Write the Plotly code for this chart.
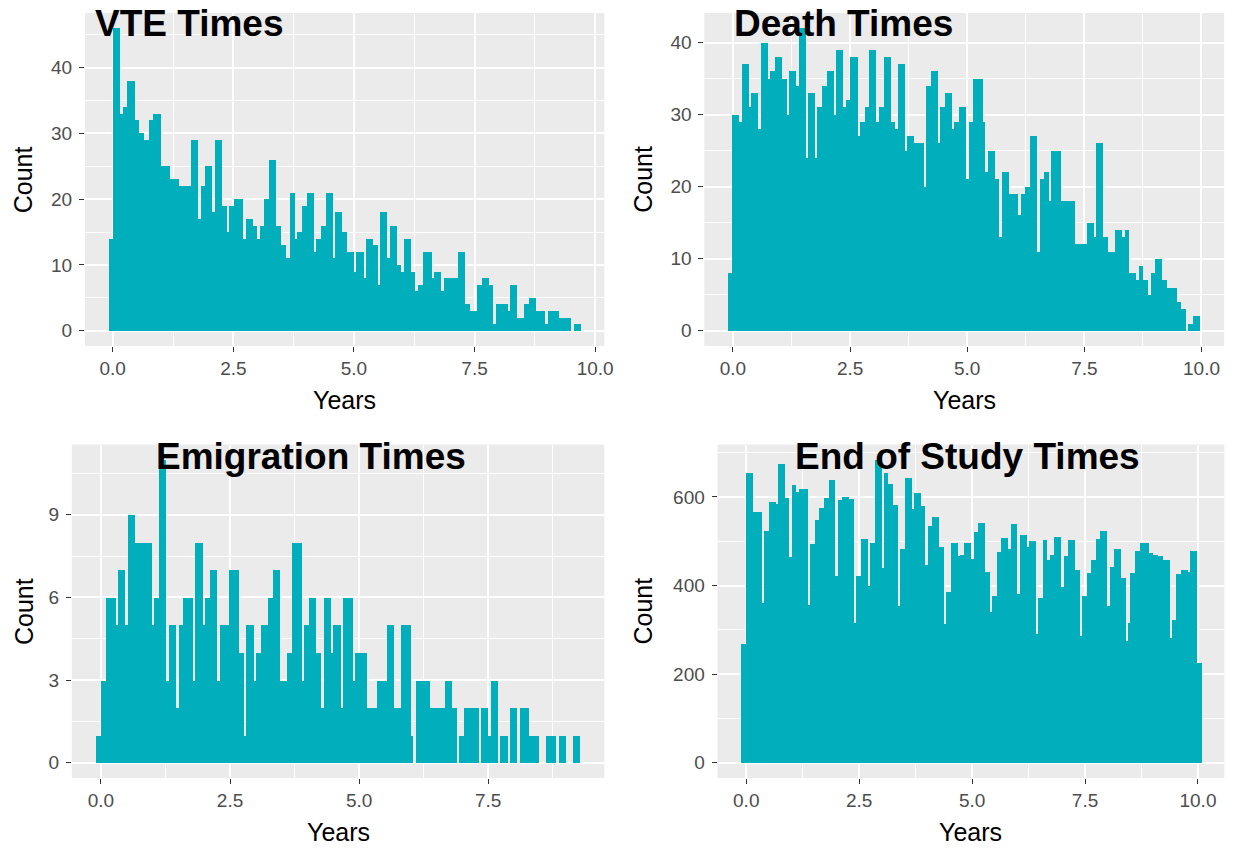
import plotly.graph_objects as go

# ---------------- data (counts per histogram bin) ----------------
vte_counts = [14,14,46,46,46,33,34,34,38,38,
              38,32,32,30,30,29,29,32,32,33,
              33,33,25,25,25,25,23,23,23,23,
              22,22,22,22,22,29,29,29,17,22,
              22,25,25,25,18,29,29,29,19,19,
              15,19,19,20,20,20,20,14,17,17,
              17,16,16,14,16,16,20,20,26,26,
              26,16,16,13,13,11,11,21,21,14,
              15,15,19,19,21,21,21,12,14,14,
              16,16,21,21,21,11,18,18,18,15,
              15,12,12,12,9,12,12,12,8,14,
              14,14,13,13,7,18,18,18,11,16,
              16,16,10,10,9,14,14,14,9,9,
              6,7,7,12,12,12,12,8,9,9,
              9,6,8,8,8,8,8,8,12,12,
              12,4,4,3,3,3,7,7,8,8,
              8,7,7,1,4,4,4,4,4,3,
              7,7,7,2,2,2,4,4,5,5,
              5,3,3,3,3,1,3,3,3,3,
              3,2,2,2,2,2,0,1,1,1]

death_counts = [8,8,30,30,30,29,37,37,37,31,
                33,33,33,28,40,40,40,35,36,36,
                38,38,38,35,35,30,36,36,36,34,
                42,42,42,24,33,33,33,24,31,31,
                34,34,36,36,36,30,39,39,39,31,
                32,32,38,38,38,27,29,29,31,31,
                39,39,39,29,31,31,38,38,38,29,
                29,28,37,37,37,25,27,27,27,26,
                26,26,26,20,34,34,36,36,36,26,
                31,31,33,33,33,28,29,29,31,31,
                31,21,29,29,35,35,35,35,29,22,
                25,25,25,21,21,13,22,22,22,19,
                19,19,19,16,19,19,20,20,27,27,
                27,11,21,21,22,22,18,25,25,25,
                25,18,18,18,18,18,18,12,12,12,
                12,12,15,15,15,13,26,26,26,13,
                13,11,11,11,14,14,14,13,14,14,
                8,8,8,7,9,9,7,7,5,8,
                8,10,10,10,7,7,6,6,6,6,
                4,4,3,3,0,1,1,2,2,2]

emig_counts = [1,1,3,3,6,6,6,6,5,7,
               7,7,5,9,9,9,8,8,8,8,
               8,8,8,5,6,6,11,11,11,3,
               5,5,5,2,5,5,6,6,6,6,
               3,8,8,8,5,6,6,7,7,7,
               3,5,5,5,5,7,7,7,7,4,
               4,1,5,5,5,3,4,4,5,5,
               5,6,6,7,7,7,3,3,3,4,
               4,8,8,8,8,3,5,5,6,6,
               6,4,4,2,6,6,6,4,5,5,
               5,2,6,6,6,6,3,4,4,4,
               4,4,2,2,2,2,3,3,3,3,
               5,5,5,2,2,2,5,5,5,5,
               1,0,3,3,3,3,3,3,2,2,
               2,2,2,2,3,3,3,2,2,0,
               1,1,2,2,2,2,2,2,0,2,
               2,2,1,3,3,3,0,1,1,1,
               0,2,2,2,0,2,2,2,2,1,
               1,1,1,0,0,0,1,1,1,1,
               0,1,1,1,0,0,0,1,1,1]

end_counts = [269,269,654,654,654,568,568,568,568,362,
              525,525,589,589,589,586,675,675,675,598,
              598,466,628,628,613,619,619,619,619,358,
              495,495,550,550,576,576,598,598,639,639,
              639,422,594,594,600,600,600,596,596,317,
              422,422,506,506,506,399,497,497,684,684,
              684,440,655,655,630,630,583,583,354,483,
              483,644,644,644,574,610,610,610,580,580,
              447,536,536,555,555,555,489,489,314,386,
              386,497,497,497,468,471,471,497,497,497,
              462,523,523,542,542,542,431,431,341,378,
              378,477,477,508,508,508,483,541,541,541,
              382,516,516,516,487,502,502,502,292,374,
              374,504,504,459,471,471,510,510,510,397,
              468,468,504,504,504,437,437,288,378,378,
              429,429,459,459,505,505,525,525,525,356,
              442,442,483,483,483,417,417,275,317,429,
              429,480,480,497,497,497,497,474,474,471,
              471,468,468,459,459,459,282,323,323,427,
              427,435,435,435,431,480,480,480,226,226]

# outer edges (years) of the binned range of each histogram
vte_range = [-0.086, 9.70]
death_range = [-0.106, 9.98]
emig_range = [-0.096, 9.28]
end_range = [-0.125, 10.075]

titles = ["VTE Times", "Death Times", "Emigration Times", "End of Study Times"]
x_tick_vals = [0, 2.5, 5, 7.5, 10]
x_tick_text = ["0.0", "2.5", "5.0", "7.5", "10.0"]
x_minor_vals = [1.25, 3.75, 6.25, 8.75]
vte_y_ticks = [0, 10, 20, 30, 40]
death_y_ticks = [0, 10, 20, 30, 40]
emig_y_ticks = [0, 3, 6, 9]
end_y_ticks = [0, 200, 400, 600]
vte_y_minor = [5, 15, 25, 35, 45]
death_y_minor = [5, 15, 25, 35, 45]
emig_y_minor = [1.5, 4.5, 7.5, 10.5]
end_y_minor = [100, 300, 500, 700]

# ---------------- layout (pixels) ----------------
W, H = 1244, 850
FILL = "#00AFBB"
FONT = "Liberation Sans, Arial, Helvetica, sans-serif"

panels = [
    # counts, range, yticks, yminor, (x0, x1, y0, y1) in px, title x(px), title y(px)
    (vte_counts, vte_range, vte_y_ticks, vte_y_minor, (85.6, 608.7, 13.0, 345.9), 94, 24),
    (death_counts, death_range, death_y_ticks, death_y_minor, (709.5, 1233.1, 13.0, 345.9), 737, 24),
    (emig_counts, emig_range, emig_y_ticks, emig_y_minor, (72.3, 608.7, 444.5, 777.9), 155, 456),
    (end_counts, end_range, end_y_ticks, end_y_minor, (722.8, 1233.3, 444.5, 777.9), 799, 456),
]

def fx(px):
    return px / W

def fy(py):
    return 1 - py / H

fig = go.Figure()
annotations = []
for i, (counts, rng, yt, ym, box, tx, ty) in enumerate(panels):
    n = len(counts)
    left, right = rng
    w = (right - left) / n
    centers = [left + w * (k + 0.5) for k in range(n)]
    ax = "" if i == 0 else str(i + 1)
    fig.add_trace(go.Bar(
        x=centers, y=counts, width=[w] * n,
        marker=dict(color=FILL, line=dict(width=0)),
        xaxis="x" + ax, yaxis="y" + ax, showlegend=False,
        hoverinfo="x+y",
    ))
    span = right - left
    ymax = max(counts)
    x0, x1, y0, y1 = box
    common = dict(
        showline=False, zeroline=False,
        ticks="outside", ticklen=5, tickwidth=1.1, tickcolor="#333333",
        tickfont=dict(family=FONT, size=19, color="#4D4D4D"),
        showgrid=True, gridcolor="white", gridwidth=2,
    )
    fig.layout["xaxis" + ax] = dict(
        common,
        domain=[fx(x0), fx(x1)],
        range=[left - 0.05 * span, right + 0.05 * span],
        tickvals=x_tick_vals, ticktext=x_tick_text,
        minor=dict(tickvals=x_minor_vals, showgrid=True, gridcolor="white", gridwidth=1, ticks=""),
        anchor="y" + ax,
    )
    fig.layout["yaxis" + ax] = dict(
        common,
        domain=[fy(y1), fy(y0)],
        range=[-0.05 * ymax, 1.05 * ymax],
        tickvals=yt, ticktext=[str(v) for v in yt],
        minor=dict(tickvals=ym, showgrid=True, gridcolor="white", gridwidth=1, ticks=""),
        anchor="x" + ax,
        ticklabelstandoff=3,
    )
    # panel background
    fig.add_shape(type="rect", xref="paper", yref="paper",
                  x0=fx(x0), x1=fx(x1), y0=fy(y1), y1=fy(y0),
                  fillcolor="#EBEBEB", line=dict(width=0), layer="below")
    # axis titles
    annotations.append(dict(text="Years", xref="paper", yref="paper",
                            x=fx((x0 + x1) / 2), y=fy(y1 + 54), xanchor="center", yanchor="middle",
                            showarrow=False, font=dict(family=FONT, size=25, color="black")))
    cx = 24 if i % 2 == 0 else 648
    annotations.append(dict(text="Count", xref="paper", yref="paper", textangle=-90,
                            x=fx(cx), y=fy((y0 + y1) / 2), xanchor="center", yanchor="middle",
                            showarrow=False, font=dict(family=FONT, size=25, color="black")))
    annotations.append(dict(text="<b>%s</b>" % titles[i], xref="paper", yref="paper",
                            x=fx(tx), y=fy(ty), xanchor="left", yanchor="middle",
                            showarrow=False, font=dict(family=FONT, size=37, color="black")))

fig.update_layout(
    width=W, height=H,
    margin=dict(l=0, r=0, t=0, b=0),
    paper_bgcolor="white", plot_bgcolor="rgba(0,0,0,0)",
    bargap=0, barmode="overlay",
    annotations=annotations,
)

fig.write_html("out.html")
